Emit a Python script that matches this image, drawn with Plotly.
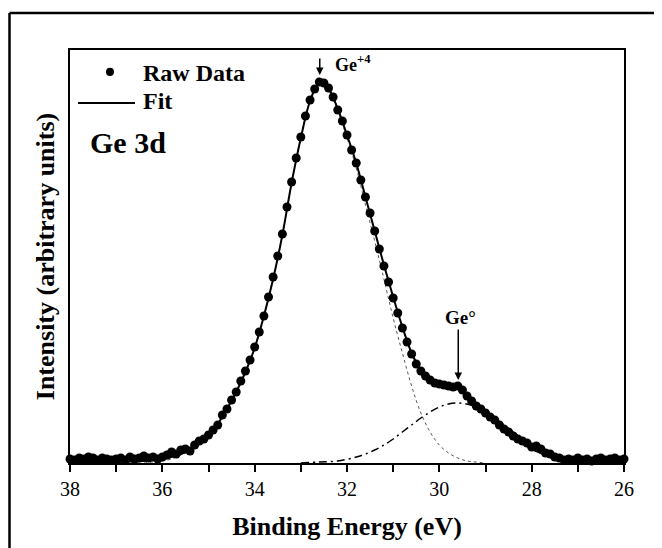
import plotly.graph_objects as go

# raw XPS spectrum, Ge 3d region (intensity in arbitrary units)
energy = [38.0, 37.9, 37.8, 37.7, 37.6, 37.5, 37.4, 37.3, 37.2, 37.1,
          37.0, 36.9, 36.8, 36.7, 36.6, 36.5, 36.4, 36.3, 36.2, 36.1,
          36.0, 35.9, 35.8, 35.7, 35.6, 35.5, 35.4, 35.3, 35.2, 35.1,
          35.0, 34.9, 34.8, 34.7, 34.6, 34.5, 34.4, 34.3, 34.2, 34.1,
          34.0, 33.9, 33.8, 33.7, 33.6, 33.5, 33.4, 33.3, 33.2, 33.1,
          33.0, 32.9, 32.8, 32.7, 32.6, 32.5, 32.4, 32.3, 32.2, 32.1,
          32.0, 31.9, 31.8, 31.7, 31.6, 31.5, 31.4, 31.3, 31.2, 31.1,
          31.0, 30.9, 30.8, 30.7, 30.6, 30.5, 30.4, 30.3, 30.2, 30.1,
          30.0, 29.9, 29.8, 29.7, 29.6, 29.5, 29.4, 29.3, 29.2, 29.1,
          29.0, 28.9, 28.8, 28.7, 28.6, 28.5, 28.4, 28.3, 28.2, 28.1,
          28.0, 27.9, 27.8, 27.7, 27.6, 27.5, 27.4, 27.3, 27.2, 27.1,
          27.0, 26.9, 26.8, 26.7, 26.6, 26.5, 26.4, 26.3, 26.2, 26.1,
          26.0]
raw = [4, 3, 5, 4, 6, 5, 3, 5, 4, 3,
       4, 5, 3, 6, 4, 5, 7, 5, 6, 4,
       6, 8, 11, 9, 13, 14, 12, 18, 22, 24,
       28, 33, 38, 48, 54, 63, 71, 82, 92, 103,
       116, 131, 147, 166, 186, 207, 229, 256, 281, 305,
       326, 347, 363, 374, 381, 380, 375, 366, 353, 342,
       328, 313, 300, 283, 266, 250, 232, 214, 197, 181,
       165, 150, 135, 121, 109, 99, 92, 87, 83, 80,
       79, 78, 77, 76, 77, 73, 67, 62, 57, 54,
       50, 46, 43, 38, 34, 31, 27, 24, 22, 20,
       16, 17, 14, 10, 9, 6, 5, 3, 4, 3,
       5, 3, 4, 2, 4, 5, 3, 4, 5, 3,
       4]

# fitted envelope
fit_energy = [38.0, 37.0, 36.4, 36.2, 36.0, 35.8, 35.6, 35.4, 35.2, 35.0,
              34.8, 34.6, 34.4, 34.2, 34.0, 33.8, 33.6, 33.4, 33.2, 33.0,
              32.8, 32.6, 32.4, 32.2, 32.0, 31.8, 31.6, 31.4, 31.2, 31.0,
              30.8, 30.6, 30.4, 30.2, 30.0, 29.8, 29.6, 29.4, 29.2, 29.0,
              28.8, 28.6, 28.4, 28.2, 28.0, 27.8, 27.6, 27.4, 27.2, 27.0,
              26.0]
fit = [1, 1, 2, 3, 4, 6, 9, 13, 19, 28,
       39, 54, 71, 91, 115, 147, 184, 228, 280, 325,
       362, 380, 374, 354, 328, 300, 266, 232, 198, 166,
       136, 110, 93, 84, 80, 77, 75, 69, 60, 52,
       42, 35, 27, 20, 14, 10, 6, 3, 1, 0,
       0]

# Ge+4 component (dotted)
ge4_energy = [36.4, 36.2, 36.0, 35.8, 35.6, 35.4, 35.2, 35.0, 34.8, 34.6,
              34.4, 34.2, 34.0, 33.8, 33.6, 33.4, 33.2, 33.0, 32.8, 32.6,
              32.4, 32.2, 32.0, 31.8, 31.6, 31.4, 31.2, 31.0, 30.8, 30.6,
              30.4, 30.2, 30.0, 29.8, 29.6, 29.4, 29.2, 29.0]
ge4 = [0, 1, 2, 4, 8, 13, 19, 28, 39, 54,
       71, 91, 115, 147, 184, 228, 280, 325, 362, 380,
       372, 352, 325, 295, 258, 222, 184, 145, 110, 77,
       50, 31, 18, 10, 5, 2, 1, 0]

# Ge0 component (dash-dot)
ge0_energy = [33.0, 32.6, 32.2, 31.8, 31.6, 31.4, 31.2, 31.0, 30.8, 30.6,
              30.4, 30.2, 30.0, 29.8, 29.6, 29.4, 29.2, 29.0, 28.8, 28.6,
              28.4, 28.2, 28.0, 27.8, 27.6, 27.4, 27.2, 27.0, 26.6, 26.0]
ge0 = [0, 1, 2, 6, 9, 13, 18, 24, 31, 38,
       45, 51, 56, 59, 60, 59, 56, 51, 45, 38,
       31, 24, 18, 13, 9, 6, 3, 2, 1, 0]

serif = "Liberation Serif, Times New Roman, serif"

fig = go.Figure()
fig.add_trace(go.Scatter(x=ge4_energy, y=ge4, mode="lines", line_shape="spline",
                         line=dict(color="#555555", width=1, dash="dot"), showlegend=False))
fig.add_trace(go.Scatter(x=ge0_energy, y=ge0, mode="lines", line_shape="spline",
                         line=dict(color="black", width=1.5, dash="8px,4px,2px,4px"),
                         showlegend=False))
fig.add_trace(go.Scatter(x=fit_energy, y=fit, mode="lines", line_shape="spline",
                         line=dict(color="black", width=2), name="Fit", showlegend=False))
fig.add_trace(go.Scatter(x=energy, y=raw, mode="markers", cliponaxis=False,
                         marker=dict(color="black", size=9), name="Raw Data", showlegend=False))

# legend drawn by hand (paper coords relative to plot area)
fig.add_shape(type="circle", xref="paper", yref="paper",
              x0=0.0650, x1=0.0794, y0=0.937, y1=0.957,
              fillcolor="black", line=dict(width=0))
fig.add_shape(type="line", xref="paper", yref="paper",
              x0=0.0144, x1=0.1173, y0=0.8717, y1=0.8717,
              line=dict(color="black", width=2))
fig.add_annotation(xref="paper", yref="paper", x=0.128, y=0.944, text="<b>Raw Data</b>",
                   showarrow=False, xanchor="left", yanchor="middle",
                   font=dict(family=serif, size=24, color="black"))
fig.add_annotation(xref="paper", yref="paper", x=0.128, y=0.876, text="<b>Fit</b>",
                   showarrow=False, xanchor="left", yanchor="middle",
                   font=dict(family=serif, size=24, color="black"))
fig.add_annotation(xref="paper", yref="paper", x=0.032, y=0.777, text="<b>Ge 3d</b>",
                   showarrow=False, xanchor="left", yanchor="middle",
                   font=dict(family=serif, size=30, color="black"))

# peak markers
fig.add_annotation(x=32.59, y=388, ax=0, ay=-18, text="", showarrow=True,
                   arrowhead=2, arrowsize=1, arrowwidth=1.5, arrowcolor="black")
fig.add_annotation(x=32.3, y=400, text="<b>Ge<sup>+4</sup></b>", showarrow=False,
                   xanchor="left", yanchor="middle", font=dict(family=serif, size=18, color="black"))
fig.add_annotation(x=29.59, y=83, ax=0, ay=-52, text="", showarrow=True,
                   arrowhead=2, arrowsize=1, arrowwidth=1.5, arrowcolor="black")
fig.add_annotation(x=29.55, y=146, text="<b>Ge°</b>", showarrow=False,
                   yanchor="middle", font=dict(family=serif, size=19, color="black"))

# outer frame (left and top edges)
fig.add_shape(type="line", xref="paper", yref="paper", x0=-0.1092, x1=-0.1092,
              y0=-0.3, y1=1.0896, line=dict(color="black", width=2.5))
fig.add_shape(type="line", xref="paper", yref="paper", x0=-0.1092, x1=1.2,
              y0=1.0896, y1=1.0896, line=dict(color="black", width=2.5))

# page body adds 8px, so the figure is 8px smaller than the window
fig.update_layout(
    width=654, height=540,
    margin=dict(l=62, r=38, t=42, b=85),
    paper_bgcolor="white", plot_bgcolor="white",
    font=dict(family=serif, color="black"),
    showlegend=False,
)
fig.update_xaxes(
    range=[38, 26], dtick=2, tick0=26, automargin=False,
    showline=True, linecolor="black", linewidth=2, mirror=True,
    ticks="outside", ticklen=7, tickwidth=1.5, tickcolor="black",
    minor=dict(dtick=1, ticks="outside", ticklen=7, tickwidth=1.5, tickcolor="black"),
    showgrid=False, zeroline=False,
    tickfont=dict(family=serif, size=20, color="black"),
    title=dict(text="<b>Binding Energy (eV)</b>", standoff=18,
               font=dict(family=serif, size=26, color="black")),
)
fig.update_yaxes(
    range=[0, 413], automargin=False,
    showline=True, linecolor="black", linewidth=2, mirror=True,
    ticks="", showticklabels=False, showgrid=False, zeroline=False,
    title=dict(text="<b>Intensity (arbitrary units)</b>", standoff=6,
               font=dict(family=serif, size=26, color="black")),
)

fig.write_html("out.html")
